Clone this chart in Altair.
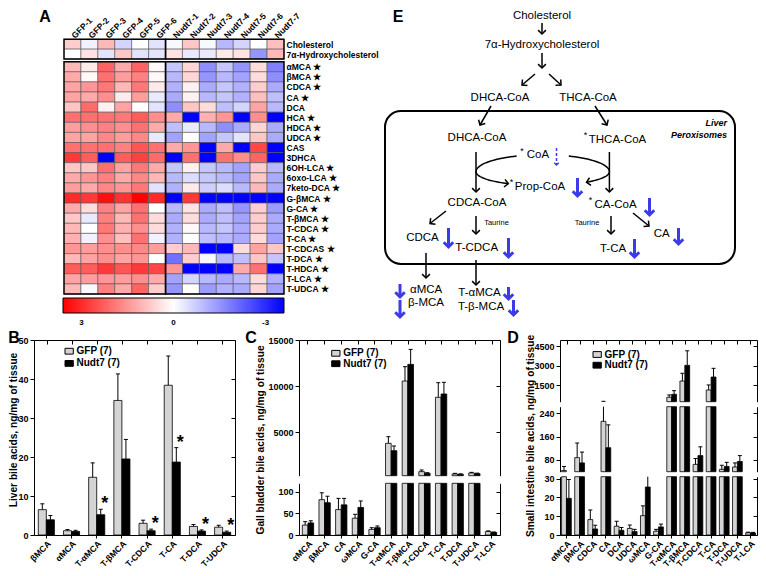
import json
import math
import numpy as np
import pandas as pd
import altair as alt

FONT = "Liberation Sans"
W, H = 750, 560
M = 8  # page margin: chart coordinate = page coordinate - M


def cx(v):
    return v - M


def cy(v):
    return v - M


# ---------------------------------------------------------------- data
# Panel A: heat map (z-scores)
heat_cols = ["GFP-1", "GFP-2", "GFP-3", "GFP-4", "GFP-5", "GFP-6",
             "Nudt7-1", "Nudt7-2", "Nudt7-3", "Nudt7-4", "Nudt7-5", "Nudt7-6", "Nudt7-7"]
sterol_rows = ["Cholesterol", "7α-Hydroxycholesterol"]
sterol_z = [
    [0.7, -0.2, 1.0, -0.6, 0.0, -0.4, -0.1, 0.8, -0.1, -1.0, -0.6, 0.0, 0.9],
    [0.0, 0.4, -0.4, 0.8, -0.4, -0.4, 0.4, -0.3, -0.3, 0.3, 0.4, -1.5, 1.0],
]
acid_rows = ["αMCA", "βMCA", "CDCA", "CA", "DCA", "HCA", "HDCA", "UDCA", "CAS", "3DHCA",
             "6OH-LCA", "6oxo-LCA", "7keto-DCA", "G-βMCA", "G-CA", "T-βMCA", "T-CDCA",
             "T-CA", "T-CDCAS", "T-DCA", "T-HDCA", "T-LCA", "T-UDCA"]
acid_star = [1, 1, 1, 1, 0, 1, 1, 1, 0, 0, 1, 1, 1, 1, 1, 1, 1, 1, 1, 1, 1, 1, 1]
acid_z = [
    [1.0, 0.3, 2.2, 1.2, 2.2, 0.1, -0.8, 0.6, -1.6, -0.8, -1.5, 0.5, -1.8],
    [1.2, 0.1, 2.0, 1.4, 1.8, 0.1, -1.0, 0.6, -1.5, -1.0, -1.3, 0.5, -1.6],
    [1.3, 1.5, 1.9, 1.0, 1.9, 0.3, -1.1, 0.2, -1.2, -0.8, -1.1, 0.7, -1.2],
    [1.3, 1.2, 1.6, 0.3, 1.4, -0.3, -1.2, 0.2, -1.0, -0.8, -1.1, 0.9, -0.9],
    [0.8, 2.1, 0.2, 1.3, 0.0, -0.4, -1.6, 0.8, 0.5, -0.9, -0.6, 1.3, -1.0],
    [2.0, 2.0, 2.0, 1.9, 2.3, 1.6, 1.2, -3.6, 1.1, 1.5, -3.6, 1.6, -3.6],
    [1.4, 1.6, 1.8, 1.6, 2.0, 1.2, -0.9, -0.3, -1.0, -1.6, -1.2, 0.6, -1.2],
    [1.3, 1.3, 1.7, 1.4, 1.7, -0.3, -1.3, 0.0, -1.3, -0.8, -0.4, 0.8, -1.2],
    [2.0, 2.0, 2.0, 1.8, 2.4, 2.0, 1.2, 1.5, -3.6, 1.2, -3.6, 2.6, -3.6],
    [2.8, 2.3, -3.6, 2.3, 2.7, 2.1, -3.6, 2.0, -3.6, 2.0, 1.6, 2.2, -3.6],
    [0.8, 0.8, 2.0, 1.3, 1.9, 1.2, -0.8, 0.2, -0.8, -1.0, -1.3, 0.7, -1.0],
    [1.2, 1.5, 1.8, 1.2, 1.7, 1.0, -1.0, -0.5, -0.8, -1.0, -1.3, 0.8, -1.2],
    [1.4, 1.2, 1.7, 1.5, 1.9, -0.4, -1.1, 0.3, -0.7, -0.5, -1.0, 1.0, -1.2],
    [3.0, 2.8, 3.4, 2.9, 3.6, 3.0, -3.6, 2.8, -3.6, -3.6, -3.6, -3.6, -3.6],
    [1.2, 0.5, 1.8, 1.3, 2.0, 0.0, -1.0, 0.4, -1.2, -0.9, -1.5, 0.7, -1.4],
    [0.8, -0.3, 1.8, 1.0, 2.0, 0.5, -1.2, 0.5, -1.2, -0.9, -1.3, 0.7, -1.2],
    [1.0, 0.0, 1.9, 1.1, 1.6, 0.5, -1.1, 0.1, -1.0, -0.8, -1.2, 0.7, -1.2],
    [1.1, -0.2, 1.6, 0.9, 2.0, -0.2, -1.1, 0.0, -0.9, -1.0, -1.2, 0.5, -1.3],
    [1.5, 1.4, 1.6, 1.6, 1.7, 1.4, 0.7, 1.0, -3.6, -3.6, 0.5, 1.3, 0.8],
    [1.0, 1.3, 1.6, 1.3, 1.5, 0.0, -2.0, 0.7, -0.1, -1.0, -0.9, 0.8, -0.8],
    [2.3, 2.3, 2.8, 2.4, 2.8, 2.6, 1.5, -3.6, -3.6, -3.6, 1.2, 2.0, -3.6],
    [1.3, 1.4, 1.5, 1.4, 1.6, 1.2, -1.3, -0.6, -1.0, -1.2, -1.0, 0.5, -1.1],
    [1.0, -0.1, 1.8, 1.2, 2.2, 0.7, -1.5, 0.0, -1.4, -1.1, -1.2, 0.6, -1.3],
]
colorbar_ticks = [-3, 0, 3]

GROUPS = ["GFP", "Nudt7"]
GROUP_LABELS = ["GFP (7)", "Nudt7 (7)"]

# Panel B: liver (mean, SEM)
liver_cats = ["βMCA", "αMCA", "T-αMCA", "T-βMCA", "T-CDCA", "T-CA", "T-DCA", "T-UDCA"]
liver_gfp = [6.5, 1.1, 14.8, 34.5, 3.0, 38.4, 2.2, 2.0]
liver_gfp_sem = [1.5, 0.3, 3.7, 6.8, 0.8, 7.5, 0.5, 0.5]
liver_nudt7 = [3.9, 0.9, 5.2, 19.5, 1.1, 18.7, 1.0, 0.7]
liver_nudt7_sem = [1.1, 0.3, 1.4, 5.0, 0.4, 3.7, 0.3, 0.3]
liver_sig = ["T-αMCA", "T-CDCA", "T-CA", "T-DCA", "T-UDCA"]

# Panel C: gall bladder
gb_cats = ["αMCA", "βMCA", "CA", "ωMCA", "G-CA", "T-αMCA", "T-βMCA", "T-CDCA",
           "T-CA", "T-DCA", "T-UDCA", "T-LCA"]
gb_gfp = [23, 82, 59, 39, 13, 3770, 10540, 690, 8770, 435, 545, 8]
gb_gfp_sem = [8, 16, 26, 9, 4, 720, 1560, 180, 1590, 70, 70, 1.5]
gb_nudt7 = [28, 75, 70, 64, 17, 2970, 12350, 510, 9130, 400, 470, 6]
gb_nudt7_sem = [5, 15, 15, 15, 4, 510, 1630, 70, 1270, 50, 60, 1]

# Panel D: small intestine
si_cats = ["αMCA", "βMCA", "CDCA", "CA", "DCA", "UDCA", "ωMCA", "G-CA", "T-αMCA",
           "T-βMCA", "T-CDCA", "T-CA", "T-DCA", "T-UDCA", "T-LCA"]
si_gfp = [44, 88, 8.2, 212, 4.7, 3.5, 10.3, 2.0, 590, 1840, 65, 1150, 48, 56, 1.2]
si_gfp_sem = [14, 50, 5.1, 68, 2.6, 1.8, 5.2, 1.0, 180, 600, 20, 390, 14, 14, 0.3]
si_nudt7 = [19.5, 70, 3.2, 122, 2.5, 1.8, 25.5, 4.3, 820, 3050, 95, 2150, 58, 75, 1.1]
si_nudt7_sem = [10, 37, 2.0, 78, 1.5, 1.2, 7.0, 1.5, 280, 1120, 30, 670, 14, 20, 0.3]

# ---------------------------------------------------------------- helpers
PXS = alt.Scale(domain=[M, M + W], range=[0, W], nice=False, zero=False)
PYS = alt.Scale(domain=[M, M + H], range=[0, H], nice=False, zero=False)
FILL = alt.Scale(domain=GROUPS, range=["#d4d4d4", "#000000"])
BASE_Y = 535  # page y of the bar panels' x axes


def ax(**kw):
    base = dict(grid=False, domainColor="black", tickColor="black", labelFont=FONT,
                labelFontWeight="bold", labelColor="black", title=None,
                labelOverlap=False, labelFlush=False, labelBound=False)
    base.update(kw)
    return alt.Axis(**base)


def PX(f):
    return alt.X(f, scale=PXS, axis=None)


def PY(f):
    return alt.Y(f, scale=PYS, axis=None)


layers = []

# ---------------------------------------------------------------- panel A
x_heat = alt.Scale(domain=[0, 13], range=[cx(64), cx(284)], nice=False, zero=False)
heat_color = alt.Color(
    "zn:Q",
    scale=alt.Scale(domain=[-3.6, 0, 3.6], range=["#ff0000", "#ffffff", "#0000ff"],
                    interpolate="rgb", nice=False, zero=False),
    legend=alt.Legend(orient="none", legendX=cx(63), legendY=cy(298), direction="horizontal",
                      gradientLength=221, gradientThickness=15, title=None,
                      values=colorbar_ticks, padding=0,
                      labelExpr="datum.value > 0 ? '-' + datum.value : (datum.value < 0 ? '' + (-datum.value) : '0')",
                      labelFont=FONT, labelFontWeight="bold", labelFontSize=8, labelColor="black",
                      gradientStrokeColor="black", gradientStrokeWidth=1, labelOffset=6),
)


def heat_block(rows, zs, labels, y_top, y_bot, col_axis):
    recs = []
    for i, zrow in enumerate(zs):
        for j, z in enumerate(zrow):
            recs.append({"r": i, "r2": i + 1, "c": j, "c2": j + 1, "z": z})
    df = pd.DataFrame(recs)
    n = len(rows)
    ys = alt.Scale(domain=[0, n], range=[cy(y_top), cy(y_bot)], nice=False, zero=False)
    lab_js = json.dumps(labels, ensure_ascii=False)
    yaxis = ax(orient="right", offset=cx(284) - W, values=[i + 0.5 for i in range(n)],
               labelExpr=f"{lab_js}[floor(datum.value)]", tickSize=0, domain=False,
               labelPadding=2, labelFontSize=8.5, labelAlign="left", labelBaseline="middle")
    if col_axis:
        cols_js = json.dumps(heat_cols, ensure_ascii=False)
        xaxis = ax(orient="top", offset=-cy(y_top), values=[j + 0.5 for j in range(13)],
                   labelExpr=f"{cols_js}[floor(datum.value)]", tickSize=0, domain=False,
                   labelAngle=-45, labelAlign="left", labelBaseline="middle",
                   labelPadding=3, labelFontSize=8.5)
    else:
        xaxis = None
    cells = alt.Chart(df).transform_calculate(zn="-datum.z").mark_rect(
        stroke="#555555", strokeWidth=0.6).encode(
        x=alt.X("c:Q", scale=x_heat, axis=xaxis), x2="c2:Q",
        y=alt.Y("r:Q", scale=ys, axis=yaxis), y2="r2:Q",
        color=heat_color)
    bdf = pd.DataFrame({"c": [0, 6], "c2": [6, 13], "r": [0, 0], "r2": [n, n]})
    border = alt.Chart(bdf).mark_rect(fillOpacity=0, stroke="black", strokeWidth=1.4).encode(
        x=alt.X("c:Q", scale=x_heat, axis=None), x2="c2:Q",
        y=alt.Y("r:Q", scale=ys, axis=None), y2="r2:Q")
    return [cells, border]


acid_labels = [r + (" ★" if s else "") for r, s in zip(acid_rows, acid_star)]
layers += heat_block(sterol_rows, sterol_z, sterol_rows, 39.3, 59.0, True)
layers += heat_block(acid_rows, acid_z, acid_labels, 61.7, 294.0, False)


# ---------------------------------------------------------------- bar panels
def bar_panel(cats, gfp, gfp_sem, nud, nud_sem, x_left, x_right, p_in, p_out, segments, sig=()):
    recs = []
    for c, g, gs, nv, ns in zip(cats, gfp, gfp_sem, nud, nud_sem):
        recs.append({"cat": c, "grp": "GFP", "v": g, "e": g + gs})
        recs.append({"cat": c, "grp": "Nudt7", "v": nv, "e": nv + ns})
    df = pd.DataFrame(recs)
    xsc = alt.Scale(domain=cats, range=[cx(x_left), cx(x_right)], paddingInner=p_in, paddingOuter=p_out)
    osc = alt.Scale(domain=GROUPS, paddingInner=0, paddingOuter=0)
    out = []
    n = len(segments)
    for k, s in enumerate(segments):
        lo, hi = s["lo"], s["hi"]
        ysc = alt.Scale(domain=[lo, hi], range=[cy(s["yb"]), cy(s["yt"])], nice=False, zero=False)
        if k == n - 1:
            xax = ax(orient="bottom", offset=cy(s["yb"]) - H, labelAngle=-45, labelAlign="right",
                     labelBaseline="top", labelFontSize=8.6, tickSize=3, labelPadding=1)
        else:
            xax = None
        yax = ax(orient="left", offset=-cx(x_left), values=s["ticks"], format="d",
                 labelFontSize=9, tickSize=4, labelPadding=2)
        XO = alt.XOffset("grp:N", scale=osc)
        bars = alt.Chart(df).transform_filter(f"datum.v > {lo}").transform_calculate(
            vt=f"min(datum.v, {hi})", vb=f"{lo}").mark_bar(stroke="black", strokeWidth=0.8).encode(
            x=alt.X("cat:N", scale=xsc, axis=xax), xOffset=XO,
            y=alt.Y("vt:Q", scale=ysc, axis=yax), y2=alt.Y2("vb"),
            fill=alt.Fill("grp:N", scale=FILL, legend=None))
        errs = alt.Chart(df).transform_filter(f"datum.e > {lo} && datum.v < {hi}").transform_calculate(
            a=f"max(datum.v, {lo})", b=f"min(datum.e, {hi})").mark_rule(color="black", strokeWidth=1).encode(
            x=alt.X("cat:N", scale=xsc, axis=None), xOffset=XO,
            y=alt.Y("a:Q", scale=ysc, axis=None), y2=alt.Y2("b"))
        caps = alt.Chart(df).transform_filter(f"datum.e > {lo} && datum.e <= {hi}").mark_tick(
            orient="horizontal", size=4, thickness=1, color="black", opacity=1).encode(
            x=alt.X("cat:N", scale=xsc, axis=None), xOffset=XO,
            y=alt.Y("e:Q", scale=ysc, axis=None))
        fdf = pd.DataFrame({"cat": cats, "yy": [lo] * len(cats)})
        top_ax = ax(orient="bottom", offset=cy(s["yt"]) - H, labels=False, tickSize=4) if k == 0 else None
        right_ax = ax(orient="left", offset=-cx(x_right), labels=False, values=s["ticks"], tickSize=4)
        frame = alt.Chart(fdf).mark_point(opacity=0).encode(
            x=alt.X("cat:N", scale=xsc, axis=top_ax),
            y=alt.Y("yy:Q", scale=ysc, axis=right_ax))
        out += [bars, errs, caps, frame]
        if sig:
            sdf = df[(df["grp"] == "Nudt7") & (df["cat"].isin(sig))]
            stars = alt.Chart(sdf).mark_text(text="*", font=FONT, fontSize=18, fontWeight="bold",
                                             baseline="alphabetic", color="black").encode(
                x=alt.X("cat:N", scale=xsc, axis=None), xOffset=XO,
                y=alt.Y("e:Q", scale=ysc, axis=None))
            out.append(stars)
    return out


layers += bar_panel(liver_cats, liver_gfp, liver_gfp_sem, liver_nudt7, liver_nudt7_sem,
                    34, 235, 0.36, 0.17,
                    [dict(lo=0, hi=50, yb=BASE_Y, yt=340, ticks=[0, 10, 20, 30, 40, 50])],
                    sig=liver_sig)
layers += bar_panel(gb_cats, gb_gfp, gb_gfp_sem, gb_nudt7, gb_nudt7_sem,
                    299, 500, 0.32, 0.2,
                    [dict(lo=250, hi=15000, yb=475.7, yt=340, ticks=[5000, 10000, 15000]),
                     dict(lo=0, hi=120, yb=BASE_Y, yt=483.3, ticks=[0, 50, 100])])
layers += bar_panel(si_cats, si_gfp, si_gfp_sem, si_nudt7, si_nudt7_sem,
                    560, 757, 0.26, 0.12,
                    [dict(lo=250, hi=5000, yb=401.7, yt=340, ticks=[1500, 3000, 4500]),
                     dict(lo=40, hi=262, yb=471.7, yt=406.7, ticks=[80, 160, 240]),
                     dict(lo=0, hi=31, yb=BASE_Y, yt=476.7, ticks=[0, 10, 20, 30])])

# legends of bar panels (page coordinates)
leg = []
for (lx, ly1, ly2) in [(65, 351.2, 363.4), (331.7, 353.3, 363.7), (593, 354.5, 365.2)]:
    for g, lab, yy in zip(GROUPS, GROUP_LABELS, [ly1, ly2]):
        leg.append({"x": lx, "x2": lx + 8.3, "y": yy - 2.9, "y2": yy + 2.9, "grp": g,
                    "t": lab, "tx": lx + 11.5, "ty": yy})
leg_df = pd.DataFrame(leg)
layers.append(alt.Chart(leg_df).mark_rect(stroke="black", strokeWidth=1).encode(
    x=PX("x:Q"), x2="x2:Q", y=PY("y:Q"), y2="y2:Q",
    fill=alt.Fill("grp:N", scale=FILL, legend=None)))
layers.append(alt.Chart(leg_df).mark_text(font=FONT, fontSize=10, fontWeight="bold", align="left",
                                          baseline="middle", color="black").encode(
    x=PX("tx:Q"), y=PY("ty:Q"), text="t:N"))

# axis titles
ttl_df = pd.DataFrame({
    "t": ["Liver bile acids, ng/mg of tissue", "Gall bladder bile acids, ng/mg of tissue",
          "Small intestine bile acids, ng/mg of tissue"],
    "x": [13.5, 261, 531], "y": [430, 440, 436]})
layers.append(alt.Chart(ttl_df).mark_text(font=FONT, fontSize=10.2, fontWeight="bold", angle=270,
                                          align="center", baseline="middle", color="black").encode(
    x=PX("x:Q"), y=PY("y:Q"), text="t:N"))

# panel letters
let_df = pd.DataFrame({"t": ["A", "B", "C", "D", "E"],
                       "x": [45, 14, 251, 513, 398], "y": [17, 338, 338, 338, 17]})
layers.append(alt.Chart(let_df).mark_text(font=FONT, fontSize=16, fontWeight="bold",
                                          align="center", baseline="middle", color="black").encode(
    x=PX("x:Q"), y=PY("y:Q"), text="t:N"))

# ---------------------------------------------------------------- panel E diagram
box_df = pd.DataFrame({"x": [385], "x2": [735], "y": [111], "y2": [264]})
layers.append(alt.Chart(box_df).mark_rect(fillOpacity=0, stroke="black", strokeWidth=2,
                                          cornerRadius=16).encode(
    x=PX("x:Q"), x2="x2:Q", y=PY("y:Q"), y2="y2:Q"))

node_text = ["Cholesterol", "7α-Hydroxycholesterol", "DHCA-CoA", "THCA-CoA", "DHCA-CoA",
             "THCA-CoA", "*", "CoA", "*", "Prop-CoA", "*", "CDCA-CoA", "CA-CoA", "*",
             "Taurine", "Taurine", "CDCA", "T-CDCA", "T-CA", "CA", "T-αMCA", "T-β-MCA"]
node_x = [542, 542, 500, 588, 477, 617.5, 585.5, 538, 522, 540, 511.5, 477, 615.5, 590.5,
          496.5, 587, 422.5, 476.7, 613, 661.7, 479.5, 481]
node_y = [15.5, 45, 97.5, 97.5, 138, 139.5, 135, 155, 151, 186.7, 182, 203.3, 205, 199.5,
          222.7, 222.7, 238.3, 248.3, 249, 234.3, 293.3, 306.7]
node_fs = [11.5, 11.5, 11.5, 11.5, 11.5, 11.5, 9, 11.5, 9, 11.5, 9, 11.5, 11.5, 9,
           7.5, 7.5, 11.5, 11.5, 11.5, 11.5, 11.5, 11.5]
nodes_df = pd.DataFrame({"t": node_text, "x": node_x, "y": node_y, "fs": node_fs})
layers.append(alt.Chart(nodes_df).mark_text(font=FONT, align="center", baseline="middle",
                                            color="black").encode(
    x=PX("x:Q"), y=PY("y:Q"), text="t:N", size=alt.Size("fs:Q", scale=None)))

left_df = pd.DataFrame({"t": ["αMCA", "β-MCA"], "x": [410, 408], "y": [290, 303.3]})
layers.append(alt.Chart(left_df).mark_text(font=FONT, fontSize=11.5, align="left",
                                           baseline="middle", color="black").encode(
    x=PX("x:Q"), y=PY("y:Q"), text="t:N"))

bi_df = pd.DataFrame({"t": ["Liver", "Peroxisomes"], "x": [727, 727], "y": [122.7, 135]})
layers.append(alt.Chart(bi_df).mark_text(font=FONT, fontSize=9, fontWeight="bold", fontStyle="italic",
                                         align="right", baseline="middle", color="black").encode(
    x=PX("x:Q"), y=PY("y:Q"), text="t:N"))

VHEAD = "M-1,-1L0,0L1,-1"


def heading(x1, y1, x2, y2):
    return math.degrees(math.atan2(-(x2 - x1), (y2 - y1))) % 360


# straight black arrows (page coordinates: start -> end)
black_arrows = [
    (542, 23, 542, 34), (542, 53, 542, 68), (535, 74, 522, 85), (549, 74, 561, 85),
    (491, 106, 480, 125), (595, 106, 607, 125), (476, 152, 476, 192), (609.4, 152, 609.4, 192),
    (446, 211, 430, 223.5), (476, 216, 476, 234), (611, 216, 611, 234), (633, 213, 649, 226),
    (426, 253, 426, 278), (476, 260, 476, 285),
]
ba_df = pd.DataFrame([{"x": a, "y": b, "x2": c, "y2": d, "ang": heading(a, b, c, d)}
                      for a, b, c, d in black_arrows])
layers.append(alt.Chart(ba_df).mark_rule(color="black", strokeWidth=1.5).encode(
    x=PX("x:Q"), y=PY("y:Q"), x2="x2:Q", y2="y2:Q"))

# curved loop (ellipse through the two vertical paths)
ecx, ecy, erx, ery_t, ery_b = 542.7, 171.7, 66.7, 17.0, 14.0
arc_defs = [("tl", 180, 113, ery_t, -1), ("tr", 67, 0, ery_t, -1),
            ("bl", 180, 239, ery_b, 1), ("br", 360, 311, ery_b, 1)]
arc_rows = []
arc_heads = []
for name, t0, t1, ry, sgn in arc_defs:
    ts = np.linspace(math.radians(t0), math.radians(t1), 24)
    xs = ecx + erx * np.cos(ts)
    ys = ecy + sgn * ry * np.abs(np.sin(ts))
    for i, (xv, yv) in enumerate(zip(xs, ys)):
        arc_rows.append({"arc": name, "i": i, "x": float(xv), "y": float(yv)})
    if name in ("bl", "br"):
        arc_heads.append({"x": float(xs[-1]), "y": float(ys[-1]),
                          "ang": heading(xs[-3], ys[-3], xs[-1], ys[-1])})
arc_df = pd.DataFrame(arc_rows)
layers.append(alt.Chart(arc_df).mark_line(color="black", strokeWidth=1.5).encode(
    x=PX("x:Q"), y=PY("y:Q"), detail="arc:N", order="i:Q"))

heads_df = pd.concat([ba_df[["x2", "y2", "ang"]].rename(columns={"x2": "x", "y2": "y"}),
                      pd.DataFrame(arc_heads)], ignore_index=True)
layers.append(alt.Chart(heads_df).mark_point(shape=VHEAD, filled=False, color="black", strokeWidth=1.5,
                                             size=60, opacity=1).encode(
    x=PX("x:Q"), y=PY("y:Q"), angle=alt.Angle("ang:Q", scale=None)))

# blue "decreased" arrows (x, top, bottom)
blue_arrows = [(577.5, 178, 196), (649.5, 198, 215), (448.5, 228, 247), (508.5, 238, 257),
               (634.5, 239, 257), (678.5, 228, 244), (400, 284, 297), (400, 300, 317),
               (508.5, 287, 299), (513.5, 300, 315)]
BLUE = "#3b3be8"
bl_df = pd.DataFrame([{"x": a, "y": b, "y2": c, "ang": 0} for a, b, c in blue_arrows])
layers.append(alt.Chart(bl_df).mark_rule(color=BLUE, strokeWidth=3).encode(
    x=PX("x:Q"), y=PY("y:Q"), y2="y2:Q"))
layers.append(alt.Chart(bl_df).mark_point(shape=VHEAD, filled=False, color=BLUE, strokeWidth=3,
                                          size=90, opacity=1).encode(
    x=PX("x:Q"), y=PY("y2:Q"), angle=alt.Angle("ang:Q", scale=None)))

dash_df = pd.DataFrame({"x": [556.5], "y": [148], "y2": [165], "ang": [0]})
layers.append(alt.Chart(dash_df).mark_rule(color=BLUE, strokeWidth=1.5, strokeDash=[3, 2]).encode(
    x=PX("x:Q"), y=PY("y:Q"), y2="y2:Q"))
layers.append(alt.Chart(dash_df).mark_point(shape=VHEAD, filled=False, color=BLUE, strokeWidth=1.5,
                                            size=20, opacity=1).encode(
    x=PX("x:Q"), y=PY("y2:Q"), angle=alt.Angle("ang:Q", scale=None)))

# ---------------------------------------------------------------- assemble
chart = alt.layer(*layers).resolve_scale(
    x="independent", y="independent", xOffset="independent"
).properties(
    width=W, height=H, padding=0, autosize=alt.AutoSizeParams(type="none")
).configure_view(strokeWidth=0).configure_axis(
    grid=False, domainColor="black", tickColor="black", domainWidth=1, tickWidth=1
)

chart.save("out.html", embed_options={"renderer": "svg", "actions": False})
